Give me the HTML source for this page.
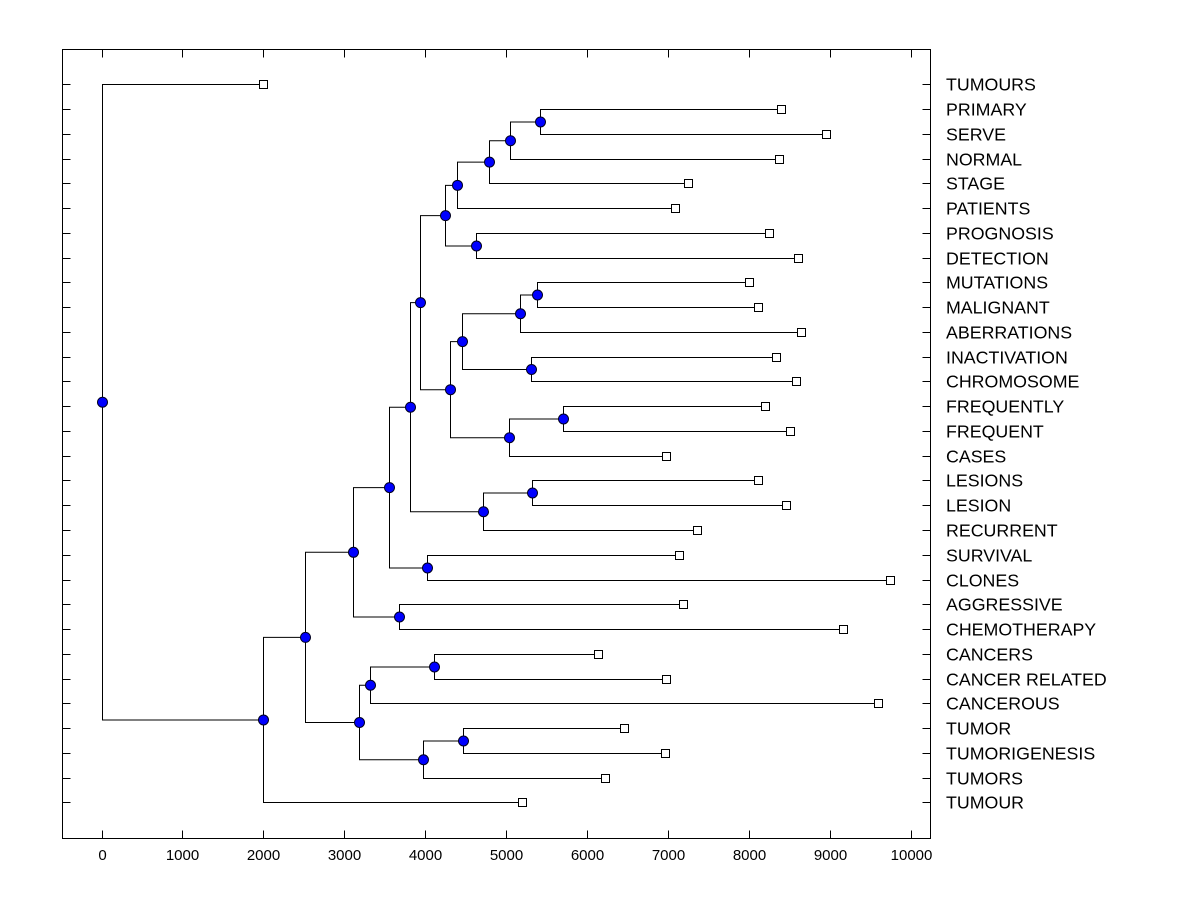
<!DOCTYPE html>
<html><head><meta charset="utf-8"><style>
html,body{margin:0;padding:0;background:#fff;}
svg text{font-family:"Liberation Sans",Arial,sans-serif;fill:#000;}
</style></head><body>
<svg id="chart" width="1200" height="900" xmlns="http://www.w3.org/2000/svg">
<rect x="0" y="0" width="1200" height="900" fill="#fff"/>
<g id="g"></g>
</svg>
<script>
const labels=["TUMOURS","PRIMARY","SERVE","NORMAL","STAGE","PATIENTS","PROGNOSIS","DETECTION","MUTATIONS","MALIGNANT","ABERRATIONS","INACTIVATION","CHROMOSOME","FREQUENTLY","FREQUENT","CASES","LESIONS","LESION","RECURRENT","SURVIVAL","CLONES","AGGRESSIVE","CHEMOTHERAPY","CANCERS","CANCER RELATED","CANCEROUS","TUMOR","TUMORIGENESIS","TUMORS","TUMOUR"];
const leafValues=[2000,8399,8955,8375,7250,7089,8251,8609,8004,8115,8647,8337,8584,8202,8511,6978,8115,8461,7361,7139,9746,7188,9166,6137,6978,9598,6459,6965,6224,5198];
const mergeLeft=[1,30,31,32,6,33,8,36,11,37,13,40,39,35,16,44,43,19,46,21,48,23,51,26,53,52,50,56,0];
const mergeRight=[2,3,4,5,7,34,9,10,12,38,14,15,41,42,17,18,45,20,47,22,49,24,25,27,28,54,55,29,57];
const mergeHeights=[5420,5050,4790,4394,4629,4246,5383,5167,5309,4450,5704,5037,4308,3937,5321,4716,3813,4023,3555,3680,3111,4110,3322,4470,3977,3187,2518,2000,0];
const xTicks=[0,1000,2000,3000,4000,5000,6000,7000,8000,9000,10000];

const NS="http://www.w3.org/2000/svg";
const g=document.getElementById('g');
const L=62.5,R=930.5,T=49.5,B=838.5;
const xs=v=>Math.round(101.5+v*0.0809)+0.5;
const ys=i=>Math.round(84.3+i*24.76)+0.5;
function mk(tag,attrs,parent){const e=document.createElementNS(NS,tag);for(const k in attrs)e.setAttribute(k,attrs[k]);(parent||g).appendChild(e);return e;}

let fr=mk('rect',{x:L,y:T,width:R-L,height:B-T,fill:'none',stroke:'#000','stroke-width':1});



xTicks.forEach(v=>{
  const x=xs(v);
  let t1=mk('line',{x1:x,y1:T,x2:x,y2:T+8,stroke:'#000'});
  
  
  let t2=mk('line',{x1:x,y1:B,x2:x,y2:B-8,stroke:'#000'});
  
  
  let tl=mk('text',{x:x,y:860,'text-anchor':'middle','font-size':15});
  tl.textContent=v;
  
  
});
labels.forEach((lab,i)=>{
  const y=ys(i);
  let a=mk('line',{x1:L,y1:y,x2:L+8,y2:y,stroke:'#000'});
  
  
  let b=mk('line',{x1:R,y1:y,x2:R-8,y2:y,stroke:'#000'});
  
  
  let t=mk('text',{x:946,y:y+6,'font-size':17.8});
  t.textContent=lab;
  
  
});

const nx=[],ny=[];
leafValues.forEach((v,i)=>{nx[i]=xs(v);ny[i]=ys(i);});
const n=labels.length;
const dots=[];
mergeHeights.forEach((h,k)=>{
  const a=mergeLeft[k],b=mergeRight[k],id=n+k;
  const x=xs(h);
  nx[id]=x;ny[id]=(ny[a]+ny[b])/2;
  let p=mk('path',{d:`M${nx[a]},${ny[a]}H${x}V${ny[b]}H${nx[b]}`,fill:'none',stroke:'#000','stroke-width':1});
  
  
  dots.push(id);
});
leafValues.forEach((v,i)=>{
  let s=mk('rect',{x:nx[i]-4,y:ny[i]-4,width:8,height:8,fill:'#fff',stroke:'#000'});
  
  
});
dots.forEach(id=>{
  let c=mk('circle',{cx:nx[id],cy:ny[id],r:5,fill:'#0000ff',stroke:'#000020','stroke-width':1});
  
  
});
</script>
</body></html>
